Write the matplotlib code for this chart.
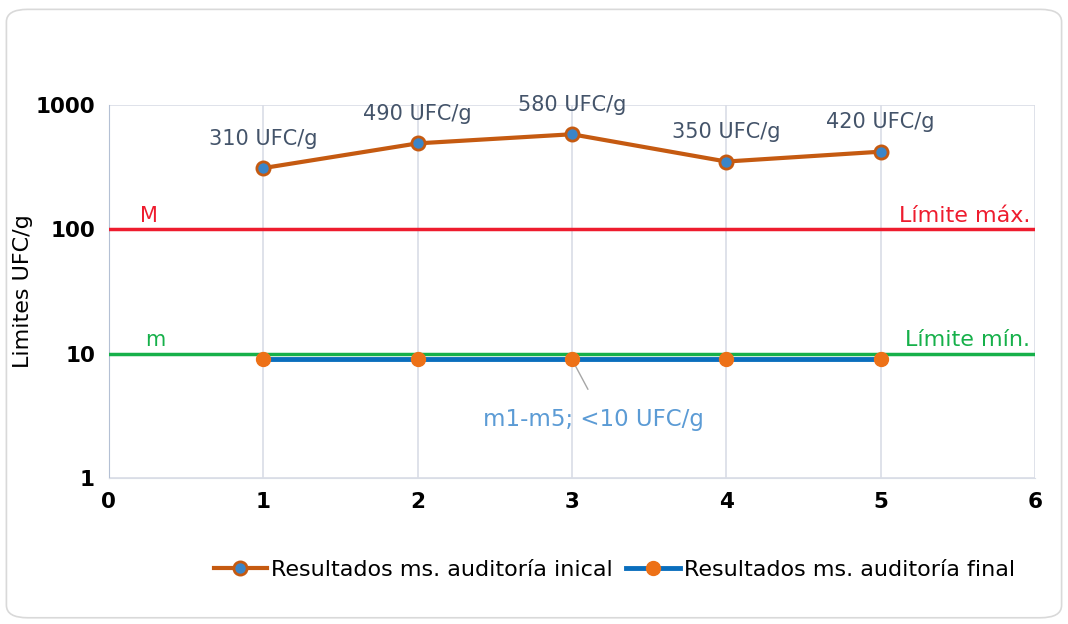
import numpy as np
import matplotlib.pyplot as plt
from matplotlib.patches import FancyBboxPatch

muestras = [1, 2, 3, 4, 5]
inicial = [310, 490, 580, 350, 420]
final = [9, 9, 9, 9, 9]
etiquetas = ['310 UFC/g', '490 UFC/g', '580 UFC/g', '350 UFC/g', '420 UFC/g']
limite_max = 100
limite_min = 10
x_lim = [0, 6]

plt.rcParams['font.family'] = ['DejaVu Sans']

fig = plt.figure(figsize=(10.68, 6.24), dpi=100)
fig.patches.append(FancyBboxPatch((0.006, 0.01), 0.988, 0.975, boxstyle='round,pad=0,rounding_size=0.02',
                                  transform=fig.transFigure, fc='white', ec='#d9d9d9', lw=1.2, zorder=-10))
ax = fig.add_axes([0.102, 0.234, 0.867, 0.598])
ax.set_facecolor('none')

ax.plot(x_lim, [limite_max, limite_max], color='#ee1c2e', lw=2.5, zorder=3)
ax.plot(x_lim, [limite_min, limite_min], color='#16b04a', lw=2.5, zorder=3)

ax.plot(muestras, inicial, color='#c55a11', lw=3, marker='o', ms=9.5,
        mfc='#3a85c8', mec='#c55a11', mew=2, zorder=5, label='Resultados ms. auditoría inical')
ax.plot(muestras, final, color='#0a6ebd', lw=3.5, marker='o', ms=10,
        mfc='#ed7117', mec='#ed7117', zorder=5, label='Resultados ms. auditoría final')

for xi, yi, t in zip(muestras, inicial, etiquetas):
    ax.annotate(t, (xi, yi), xytext=(0, 14), textcoords='offset points', ha='center', va='bottom',
                fontsize=15, color='#44546a')

ax.text(0.26, limite_max * 1.07, 'M', color='#ee1c2e', fontsize=15, ha='center', va='bottom')
ax.text(0.3, limite_min * 1.07, 'm', color='#16b04a', fontsize=15, ha='center', va='bottom')
ax.text(5.97, limite_max * 1.06, 'Límite máx.', color='#ee1c2e', fontsize=16, ha='right', va='bottom')
ax.text(5.97, limite_min * 1.06, 'Límite mín.', color='#16b04a', fontsize=16, ha='right', va='bottom')

ax.annotate('m1-m5; <10 UFC/g', xy=(3, final[2]), xytext=(3.14, 2.95), ha='center', va='center',
            fontsize=16.5, color='#5b9bd5',
            arrowprops=dict(arrowstyle='-', color='#a6a6a6', lw=1, shrinkA=13, shrinkB=0,
                            relpos=(0.52, 1)))

ax.set_yscale('log')
ax.set_ylim(1, 1000)
ax.set_xlim(x_lim)
ax.set_xticks(range(0, 7))
ax.set_yticks([1, 10, 100, 1000])
ax.set_yticklabels(['1', '10', '100', '1000'])
ax.yaxis.set_minor_locator(plt.NullLocator())
ax.tick_params(length=0, labelsize=15.5, pad=10)
for lbl in ax.get_xticklabels() + ax.get_yticklabels():
    lbl.set_fontweight('bold')
ax.grid(True, color='#d9dde6', lw=1.2, zorder=0)
for s in ['top', 'right']:
    ax.spines[s].set_visible(False)
ax.spines['left'].set_color('#b4c0d4')
ax.spines['bottom'].set_color('#d9dde6')
ax.set_ylabel('Limites UFC/g', fontsize=16, labelpad=2)

ax.legend(loc='center', bbox_to_anchor=(0.546, -0.247), ncol=2, frameon=False, fontsize=16,
          handlelength=2.4, handletextpad=0.2, columnspacing=0.6)

fig.savefig('out.png', dpi=100)
